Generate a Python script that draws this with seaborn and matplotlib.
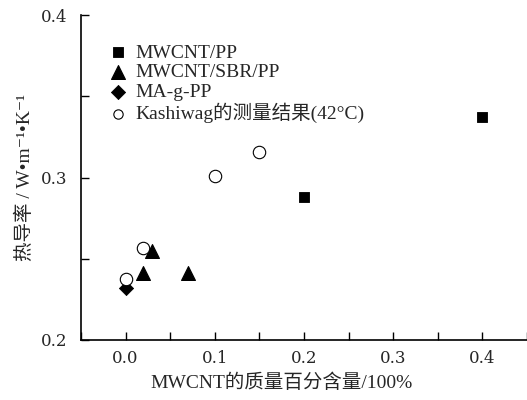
import numpy as np
import pandas as pd
import matplotlib
matplotlib.use("Agg")
import matplotlib.pyplot as plt
import seaborn as sns
from matplotlib.ticker import MultipleLocator

# data
pp_x = [0.2, 0.4]
pp_y = [0.288, 0.337]
sbr_x = [0.02, 0.03, 0.07]
sbr_y = [0.241, 0.255, 0.241]
mag_x = [0.0]
mag_y = [0.232]
kas_x = [0.0, 0.02, 0.1, 0.15]
kas_y = [0.2375, 0.2565, 0.301, 0.3155]

labels = ["MWCNT/PP", "MWCNT/SBR/PP", "MA-g-PP", "Kashiwag的测量结果(42°C)"]
xticks = [0.0, 0.1, 0.2, 0.3, 0.4]
yticks = [0.2, 0.3, 0.4]

sns.set_theme(style="ticks")
plt.rcParams["font.family"] = ["Liberation Serif", "Noto Sans CJK SC", "DejaVu Serif"]
plt.rcParams["xtick.direction"] = "in"
plt.rcParams["ytick.direction"] = "in"

fig = plt.figure(figsize=(5.27, 4.0), dpi=100)
ax = fig.add_axes([0.1537, 0.15, 0.8463, 0.8125])

sns.scatterplot(x=pp_x, y=pp_y, marker="s", s=60, color="black", edgecolor="black", label=labels[0], ax=ax)
sns.scatterplot(x=sbr_x, y=sbr_y, marker="^", s=100, color="black", edgecolor="black", label=labels[1], ax=ax)
sns.scatterplot(x=mag_x, y=mag_y, marker="D", s=52, color="black", edgecolor="black", label=labels[2], ax=ax)
sns.scatterplot(x=kas_x, y=kas_y, marker="o", s=80, facecolor="white", edgecolor="black", linewidth=0.8, label=labels[3], ax=ax)

ax.set_xlim(-0.05, 0.45)
ax.set_ylim(0.2, 0.4)
ax.set_xticks(xticks)
ax.set_xticklabels([f"{v:.1f}" for v in xticks], family="DejaVu Serif", fontsize=12)
ax.set_yticks(yticks)
ax.set_yticklabels([f"{v:.1f}" for v in yticks], family="DejaVu Serif", fontsize=12)
ax.xaxis.set_minor_locator(MultipleLocator(0.05))
ax.yaxis.set_minor_locator(MultipleLocator(0.05))
ax.tick_params(which="both", direction="in", length=6, width=1, color="black")
ax.tick_params(axis="x", which="both", pad=7)
ax.tick_params(axis="y", which="both", pad=10)

sns.despine(ax=ax)
for sp in ["left", "bottom"]:
    ax.spines[sp].set_linewidth(1.2)
    ax.spines[sp].set_color("black")

ax.set_xlabel("MWCNT的质量百分含量/100%", fontsize=14, labelpad=5, x=0.45)
ax.set_ylabel("热导率 / W•m⁻¹•K⁻¹", fontsize=14, labelpad=5)

leg = ax.legend(loc="upper left", bbox_to_anchor=(0.038, 0.935), frameon=False, fontsize=14,
                handlelength=1.3, handletextpad=0.2, labelspacing=0.1, borderaxespad=0)
leg.legend_handles[3].set_sizes([45])

fig.savefig("out.png", dpi=100)
